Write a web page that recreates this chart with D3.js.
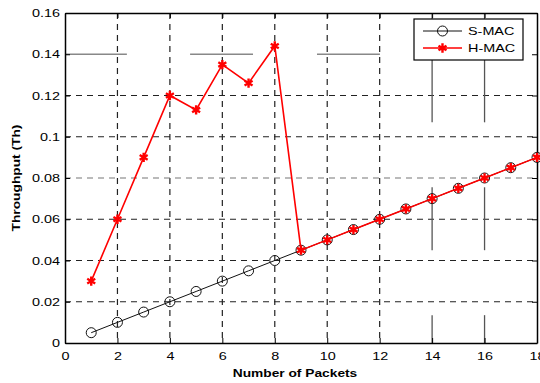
<!DOCTYPE html>
<html><head><meta charset="utf-8">
<script src="https://cdn.jsdelivr.net/npm/d3@7"></script>
<style>body{margin:0;background:#fff;}svg{display:block;}</style>
</head><body>
<svg id="c" width="540" height="383"></svg>
<script>
const packets = [1,2,3,4,5,6,7,8,9,10,11,12,13,14,15,16,17,18];
const smac = [0.005,0.010,0.015,0.020,0.025,0.030,0.035,0.040,0.045,0.050,0.055,0.060,0.065,0.070,0.075,0.080,0.085,0.090];
const hmac = [0.030,0.060,0.090,0.120,0.113,0.135,0.126,0.144,0.045,0.050,0.055,0.060,0.065,0.070,0.075,0.080,0.085,0.090];
const xTicks = [0,2,4,6,8,10,12,14,16,18];
const yTicks = [0,0.02,0.04,0.06,0.08,0.10,0.12,0.14,0.16];
const yTickLabels = ["0","0.02","0.04","0.06","0.08","0.1","0.12","0.14","0.16"];
const dashedX = [2,4,6,8,10,12];
const dashedY = [0.02,0.04,0.06,0.08,0.10,0.12];
const solidX = [14,16];
const solidXRanges = [[0.107,0.16],[0.045,0.0755],[0,0.0135]];
const solidY = [0.14];
const solidYRanges = [[0,2.36],[4.77,7.17],[9.61,12.01]];
const seriesNames = ["S-MAC","H-MAC"];

const svg = d3.select("#c");
const L=65, R=537, T=13, B=343;
const x = d3.scaleLinear().domain([0,18]).range([L,R]);
const y = d3.scaleLinear().domain([0,0.16]).range([B,T]);
const font = "'Liberation Sans', Arial, sans-serif";
const STRETCH = 1.25;
function stretch(sel){
  sel.each(function(){
    const w = this.getComputedTextLength();
    if (w>0) d3.select(this).attr("textLength", w*STRETCH).attr("lengthAdjust","spacingAndGlyphs");
  });
}

// grid
const g = svg.append("g");
dashedX.forEach(v=>g.append("line").attr("x1",x(v)).attr("x2",x(v)).attr("y1",T).attr("y2",B)
  .attr("stroke","#222").attr("stroke-width",1.2).attr("stroke-dasharray","6,5"));
dashedY.forEach(v=>g.append("line").attr("x1",L).attr("x2",R).attr("y1",y(v)).attr("y2",y(v))
  .attr("stroke", v===0.08? "#777":"#222").attr("stroke-width",1.2).attr("stroke-dasharray","6,5"));
solidX.forEach(v=>solidXRanges.forEach(r=>g.append("line").attr("x1",x(v)).attr("x2",x(v))
  .attr("y1",y(r[0])).attr("y2",y(r[1])).attr("stroke","#555").attr("stroke-width",1.3)));
solidY.forEach(v=>solidYRanges.forEach(r=>g.append("line").attr("x1",x(r[0])).attr("x2",x(r[1]))
  .attr("y1",y(v)).attr("y2",y(v)).attr("stroke","#888").attr("stroke-width",1.3)));

// axes (inward ticks)
const axB = d3.axisBottom(x).tickValues(xTicks).tickSizeInner(-5).tickSizeOuter(0).tickPadding(9);
const axL = d3.axisLeft(y).tickValues(yTicks).tickFormat((d,i)=>yTickLabels[i]).tickSizeInner(-5).tickSizeOuter(0).tickPadding(5);
const axT = d3.axisTop(x).tickValues(xTicks).tickSizeInner(-5).tickSizeOuter(0).tickFormat("");
const axR = d3.axisRight(y).tickValues(yTicks).tickSizeInner(-5).tickSizeOuter(0).tickFormat("");
function style(sel){
  sel.selectAll(".domain").attr("stroke","#000").attr("stroke-width",1.5);
  sel.selectAll(".tick line").attr("stroke","#000").attr("stroke-width",1);
  sel.selectAll("text").attr("font-family",font).attr("font-size",11.5).attr("fill","#000").call(stretch);
}
svg.append("g").attr("transform",`translate(0,${B})`).call(axB).call(style);
svg.append("g").attr("transform",`translate(${L},0)`).call(axL).call(style);
svg.append("g").attr("transform",`translate(0,${T})`).call(axT).call(style);
svg.append("g").attr("transform",`translate(${R},0)`).call(axR).call(style);

// series
const line = d3.line().x((d,i)=>x(packets[i])).y(d=>y(d));
svg.append("path").datum(smac).attr("d",line).attr("fill","none").attr("stroke","#111").attr("stroke-width",1);
svg.append("g").selectAll("circle").data(smac).join("circle")
  .attr("cx",(d,i)=>x(packets[i])).attr("cy",d=>y(d)).attr("r",5)
  .attr("fill","none").attr("stroke","#111").attr("stroke-width",1);
svg.append("path").datum(hmac).attr("d",line).attr("fill","none").attr("stroke","#f00").attr("stroke-width",1.6);
const star = d3.symbol().type(d3.symbolAsterisk).size(60);
svg.append("g").selectAll("path").data(hmac).join("path")
  .attr("transform",(d,i)=>`translate(${x(packets[i])},${y(d)})`).attr("d",star)
  .attr("fill","none").attr("stroke","#f00").attr("stroke-width",2.4);

// axis titles
svg.append("text").attr("x",(L+R)/2-6).attr("y",377).attr("text-anchor","middle")
  .attr("font-family",font).attr("font-weight","bold").attr("font-size",11).text("Number of Packets").call(stretch);
svg.append("text").attr("transform",`translate(20,${(T+B)/2}) rotate(-90)`).attr("text-anchor","middle")
  .attr("font-family",font).attr("font-weight","bold").attr("font-size",11).text("Throughput (Th)").call(stretch);

// legend
const lg = svg.append("g").attr("transform","translate(414,19)");
lg.append("rect").attr("width",109).attr("height",41).attr("fill","#fff").attr("stroke","#000").attr("stroke-width",1.2);
[0,1].forEach(i=>{
  const yy = 12 + i*17;
  lg.append("line").attr("x1",9).attr("x2",48).attr("y1",yy).attr("y2",yy)
    .attr("stroke", i? "#f00":"#111").attr("stroke-width", i?1.6:1);
  if(i===0) lg.append("circle").attr("cx",28.5).attr("cy",yy).attr("r",5).attr("fill","none").attr("stroke","#111");
  else lg.append("path").attr("transform",`translate(28.5,${yy})`).attr("d",star).attr("fill","none").attr("stroke","#f00").attr("stroke-width",2.4);
  lg.append("text").attr("x",54).attr("y",yy+4).attr("font-family",font).attr("font-size",11.5).attr("fill","#000").text(seriesNames[i]).call(stretch);
});
</script>
</body></html>
